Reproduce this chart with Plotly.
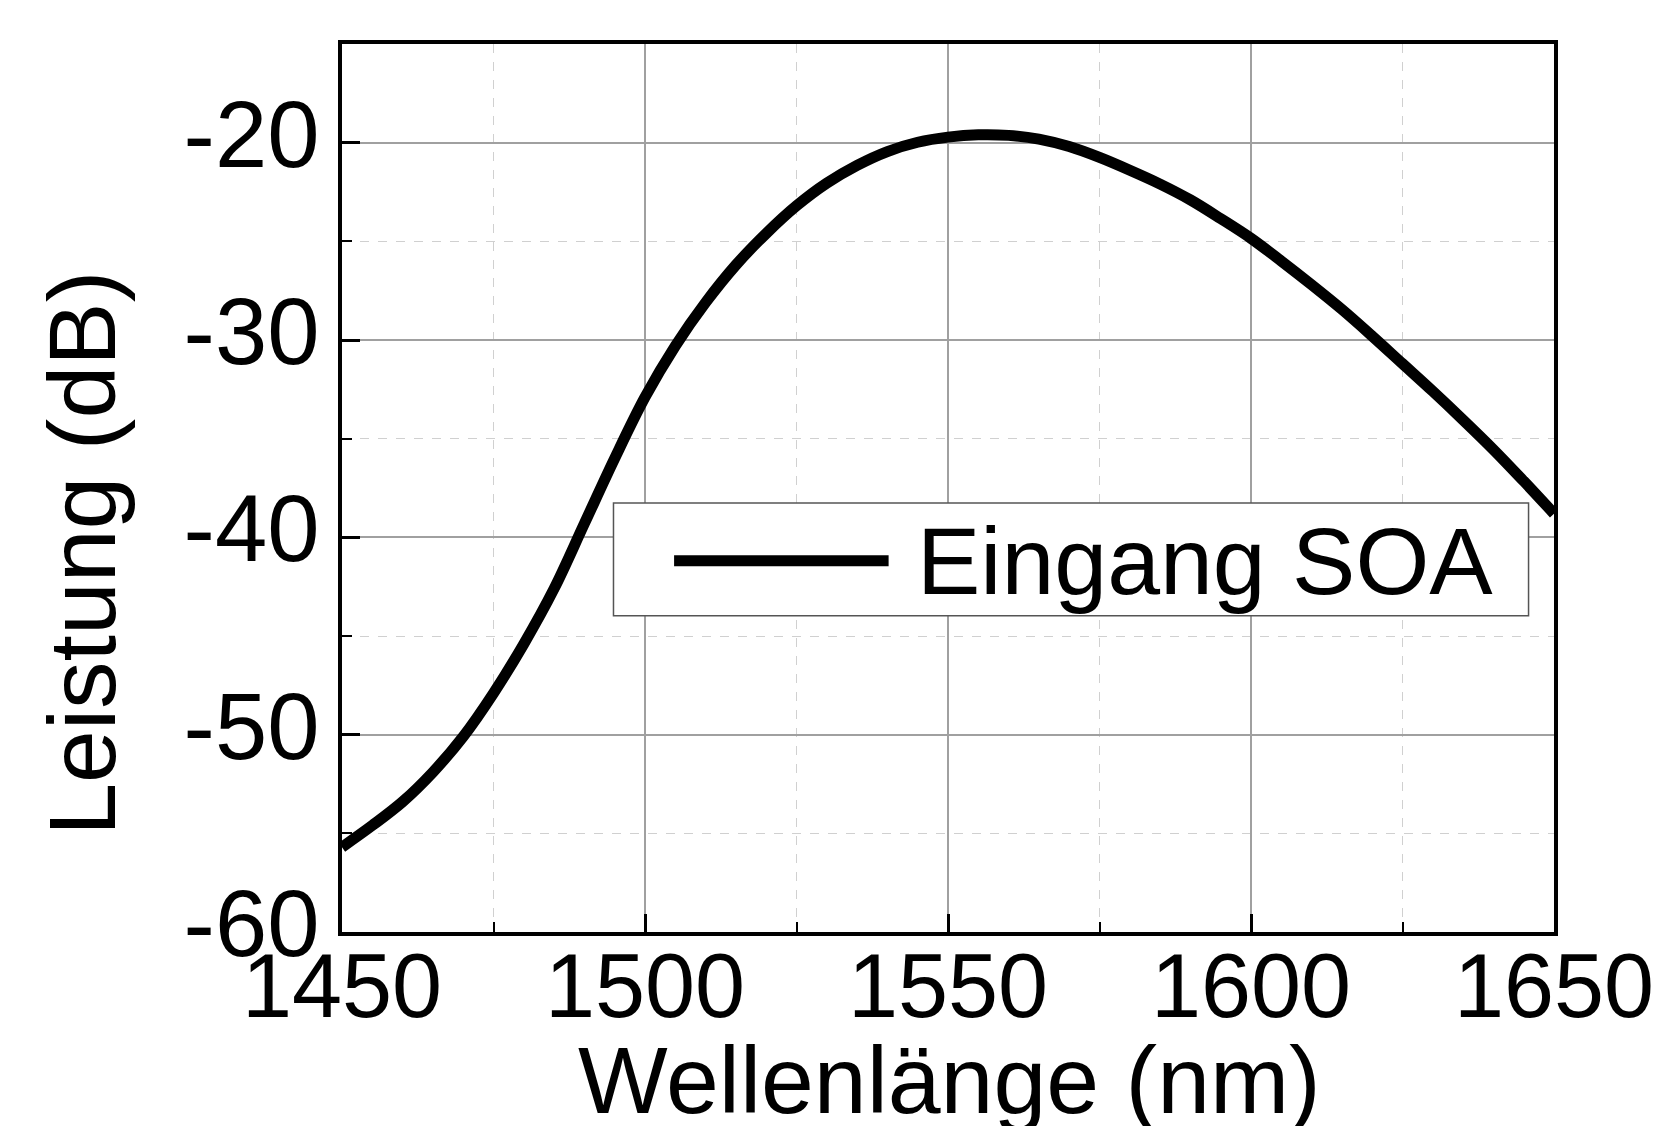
import plotly.graph_objects as go

wavelength_nm = [1450, 1455, 1460, 1465, 1470, 1475, 1480, 1485, 1490, 1495,
                 1500, 1505, 1510, 1515, 1520, 1525, 1530, 1535, 1540, 1545,
                 1550, 1555, 1560, 1565, 1570, 1575, 1580, 1585, 1590, 1595,
                 1600, 1605, 1610, 1615, 1620, 1625, 1630, 1635, 1640, 1645, 1650]
power_db = [-55.7, -54.6, -53.4, -51.9, -50.1, -47.9, -45.4, -42.6, -39.3, -36.0,
            -32.9, -30.3, -28.1, -26.2, -24.6, -23.2, -22.05, -21.15, -20.45, -19.98,
            -19.72, -19.6, -19.63, -19.82, -20.2, -20.75, -21.4, -22.1, -22.9, -23.85,
            -24.85, -26.0, -27.2, -28.45, -29.8, -31.2, -32.6, -34.05, -35.55, -37.15, -38.8]

series_name = "Eingang SOA"
x_title = "Wellenlänge (nm)"
y_title = "Leistung (dB)"
x_ticks = [1450, 1500, 1550, 1600, 1650]
y_ticks = [-60, -50, -40, -30, -20]

FONT = "Liberation Sans, Arial, sans-serif"

fig = go.Figure()
fig.add_trace(go.Scatter(x=wavelength_nm, y=power_db, mode="lines", name=series_name,
                         line=dict(color="black", width=11, shape="spline", smoothing=1.0),
                         showlegend=False))

axis_common = dict(
    showline=True, linecolor="black", linewidth=3.5, mirror=True,
    ticks="inside", ticklen=18, tickwidth=3, tickcolor="black",
    showgrid=True, gridcolor="#a0a0a0", gridwidth=1.5,
    zeroline=False, automargin=False, ticklabeloverflow="allow",
)

fig.update_xaxes(**axis_common, range=[1450, 1650], tickvals=x_ticks,
                 ticktext=[str(v) for v in x_ticks], ticklabelstandoff=-27,
                 tickfont=dict(family=FONT, size=90, color="black"),
                 minor=dict(dtick=25, tick0=1450, ticks="inside", ticklen=10, tickwidth=2,
                            tickcolor="black", showgrid=True, gridcolor="#d0d0d0",
                            griddash="dash", gridwidth=1))
fig.update_yaxes(**axis_common, range=[-60, -15], tickvals=y_ticks,
                 ticktext=[str(v) for v in y_ticks], ticklabelshift=-9,
                 tickfont=dict(family=FONT, size=94, color="black"),
                 minor=dict(dtick=5, tick0=-60, ticks="inside", ticklen=10, tickwidth=2,
                            tickcolor="black", showgrid=True, gridcolor="#d0d0d0",
                            griddash="dash", gridwidth=1))

# axis titles
fig.add_annotation(xref="paper", yref="paper", x=0.501, y=-0.1046, text=x_title,
                   showarrow=False, xanchor="center", yanchor="top",
                   font=dict(family=FONT, size=95, color="black"))
fig.add_annotation(xref="paper", yref="paper", x=-0.2146, y=0.427, text=y_title,
                   showarrow=False, xanchor="center", yanchor="middle", textangle=-90,
                   font=dict(family=FONT, size=95, color="black"))

# custom legend box (long line sample as in the reference)
fig.add_shape(type="rect", xref="paper", yref="paper", x0=0.224, x1=0.979, y0=0.356, y1=0.483,
              line=dict(color="#555555", width=1.5), fillcolor="white", layer="above")
fig.add_shape(type="line", xref="paper", yref="paper", x0=0.274, x1=0.451, y0=0.418, y1=0.418,
              line=dict(color="black", width=11), layer="above")
fig.add_annotation(xref="paper", yref="paper", x=0.473, y=0.418, text=series_name,
                   showarrow=False, xanchor="left", yanchor="middle",
                   font=dict(family=FONT, size=95, color="black"))

fig.update_layout(width=1652, height=1118, paper_bgcolor="white", plot_bgcolor="white",
                  margin=dict(l=334, r=106, t=36, b=194))

fig.write_html("out.html")
